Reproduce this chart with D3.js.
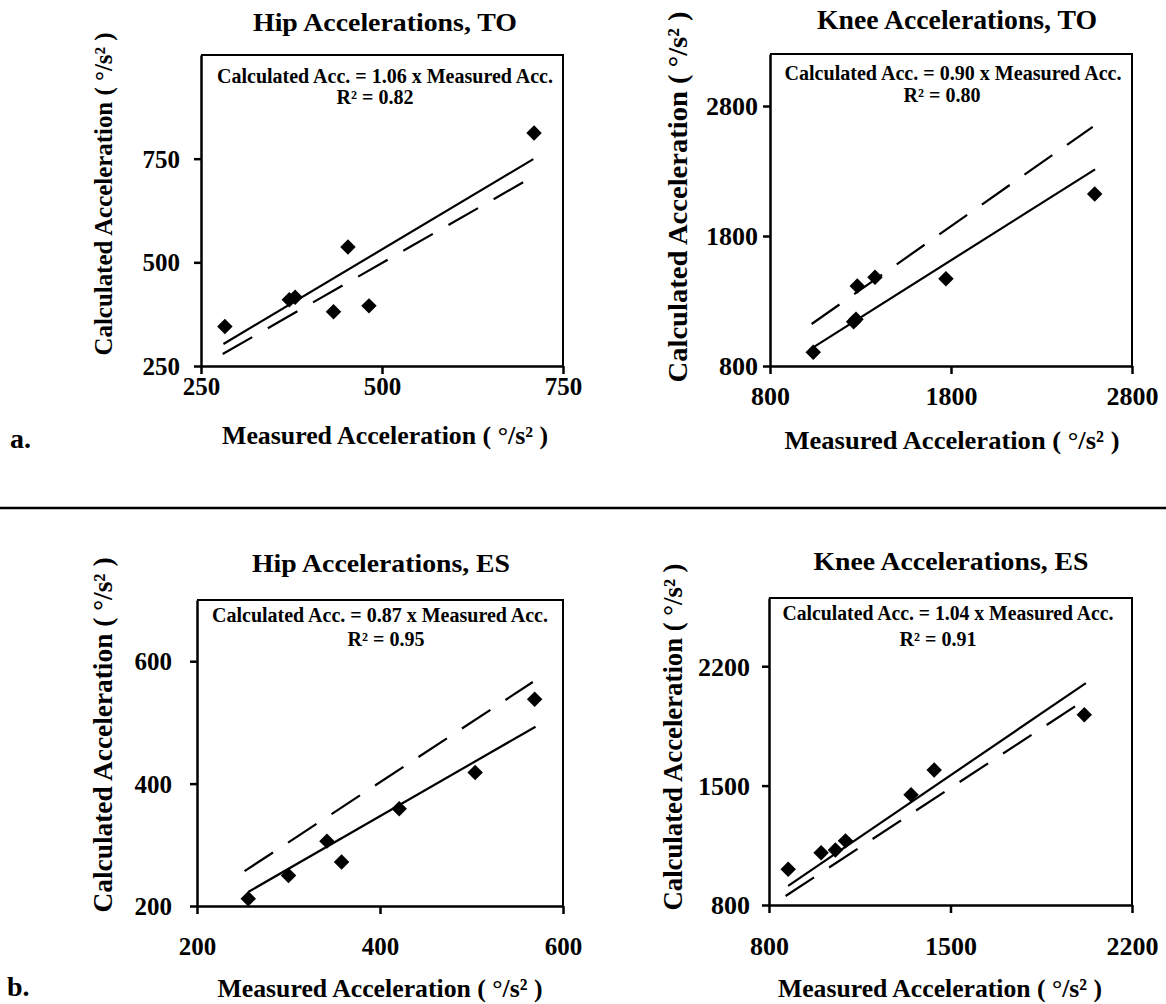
<!DOCTYPE html>
<html>
<head>
<meta charset="utf-8">
<script src="https://cdn.jsdelivr.net/npm/d3@7"></script>
<style>
  body { margin: 0; background: #fff; }
  svg text { font-family: "Liberation Serif", "Times New Roman", serif; font-weight: bold; fill: #000; }
</style>
</head>
<body>
<div id="chart"></div>
<script>
// values
var titles = ["Hip Accelerations, TO", "Knee Accelerations, TO", "Hip Accelerations, ES", "Knee Accelerations, ES"];
var slopes = ["1.06", "0.90", "0.87", "1.04"];
var rSquared = ["0.82", "0.80", "0.95", "0.91"];

var hipTOMeasured = [283, 372, 380, 433, 453, 482, 710];
var hipTOCalculated = [345, 410, 416, 381, 537, 395, 812];
var kneeTOMeasured = [1039, 1262, 1275, 1282, 1380, 1772, 2594];
var kneeTOCalculated = [905, 1140, 1160, 1415, 1482, 1471, 2123];
var hipESMeasured = [256, 300, 342, 358, 421, 504, 569];
var hipESCalculated = [212, 250, 306, 272, 359, 418, 538];
var kneeESMeasured = [874, 1001, 1056, 1095, 1348, 1437, 2016];
var kneeESCalculated = [1010, 1107, 1123, 1176, 1446, 1592, 1915];

// regression line (solid) and reference line (dashed) end points
var fitX = [[281, 709], [1030, 2596], [256, 570], [874, 2022]];
var fitY = [[303, 749], [936, 2313], [223, 493], [912, 2101]];
var refX = [[280, 705], [1030, 2583], [252, 567], [864, 2003]];
var refY = [[279, 703], [1123, 2640], [257, 566], [853, 1987]];

var xDomains = [[250, 750], [800, 2800], [200, 600], [800, 2200]];
var yDomains = [[250, 1000], [800, 3200], [200, 700], [800, 2600]];
var xTicks = [[250, 500, 750], [800, 1800, 2800], [200, 400, 600], [800, 1500, 2200]];
var yTicks = [[250, 500, 750], [800, 1800, 2800], [200, 400, 600], [800, 1500, 2200]];

var xLabel = "Measured Acceleration ( \u00B0/s\u00B2 )";
var yLabel = "Calculated Acceleration ( \u00B0/s\u00B2 )";

var measured = [hipTOMeasured, kneeTOMeasured, hipESMeasured, kneeESMeasured];
var calculated = [hipTOCalculated, kneeTOCalculated, hipESCalculated, kneeESCalculated];

// layout of each panel (pixels), scanned figure so each one differs a bit
var layout = [
  {x0: 201, x1: 563, y0: 55, y1: 366, tickFont: 25, yTickRight: 180, xTickBase: 395,
   titleX: 385, titleY: 31, titleLen: 264, titleFont: 26,
   yLabX: 112, yLabCY: 194, yLabLen: 323, yLabFont: 25,
   xLabX: 385, xLabY: 444, xLabLen: 326, xLabFont: 25,
   eqX: 385, eqY: 83, eqLen: 336, r2X: 375, r2Y: 104},
  {x0: 770, x1: 1132, y0: 54, y1: 366, tickFont: 26, yTickRight: 758, xTickBase: 405,
   titleX: 957, titleY: 29, titleLen: 280, titleFont: 27,
   yLabX: 687, yLabCY: 197, yLabLen: 371, yLabFont: 28,
   xLabX: 952, xLabY: 449, xLabLen: 335, xLabFont: 26,
   eqX: 953, eqY: 80, eqLen: 337, r2X: 942, r2Y: 102},
  {x0: 197, x1: 563, y0: 600, y1: 906, tickFont: 25, yTickRight: 172, xTickBase: 955,
   titleX: 381, titleY: 572, titleLen: 258, titleFont: 26,
   yLabX: 112, yLabCY: 735, yLabLen: 355, yLabFont: 27,
   xLabX: 380, xLabY: 997, xLabLen: 325, xLabFont: 26,
   eqX: 380, eqY: 622, eqLen: 336, r2X: 386, r2Y: 646},
  {x0: 769, x1: 1132, y0: 598, y1: 905, tickFont: 26, yTickRight: 750, xTickBase: 955,
   titleX: 951, titleY: 570, titleLen: 275, titleFont: 26,
   yLabX: 682, yLabCY: 737, yLabLen: 347, yLabFont: 27,
   xLabX: 940, xLabY: 997, xLabLen: 324, xLabFont: 26,
   eqX: 948, eqY: 620, eqLen: 331, r2X: 938, r2Y: 646}
];

var W = 1166, H = 1004;
var svg = d3.select("#chart").append("svg")
  .attr("width", W)
  .attr("height", H);

// separator between a. and b.
svg.append("line")
  .attr("x1", 0).attr("x2", W)
  .attr("y1", 508).attr("y2", 508)
  .attr("stroke", "#000").attr("stroke-width", 2.5);

svg.append("text").attr("x", 10).attr("y", 448).style("font-size", "28px").text("a.");
svg.append("text").attr("x", 7).attr("y", 996).style("font-size", "28px").text("b.");

layout.forEach(function(L, p) {
  var x = d3.scaleLinear().domain(xDomains[p]).range([L.x0, L.x1]);
  var y = d3.scaleLinear().domain(yDomains[p]).range([L.y1, L.y0]);
  var g = svg.append("g");

  // top and right border of the plot area
  g.append("path")
    .attr("d", "M" + L.x0 + "," + L.y0 + "H" + L.x1 + "V" + L.y1)
    .attr("fill", "none").attr("stroke", "#000").attr("stroke-width", 2);

  var xAxis = g.append("g")
    .attr("transform", "translate(0," + L.y1 + ")")
    .call(d3.axisBottom(x).tickValues(xTicks[p]).tickSize(8).tickSizeOuter(0).tickFormat(d3.format("d")));
  xAxis.selectAll("text")
    .attr("dy", null)
    .attr("y", L.xTickBase - L.y1)
    .style("font-size", L.tickFont + "px");

  var yAxis = g.append("g")
    .attr("transform", "translate(" + L.x0 + ",0)")
    .call(d3.axisLeft(y).tickValues(yTicks[p]).tickSize(7).tickSizeOuter(0)
      .tickPadding(L.x0 - L.yTickRight - 7).tickFormat(d3.format("d")));
  yAxis.selectAll("text")
    .attr("dy", "0.34em")
    .style("font-size", L.tickFont + "px");

  g.selectAll(".domain").attr("stroke", "#000").attr("stroke-width", 2.5);
  g.selectAll(".tick line").attr("stroke", "#000").attr("stroke-width", 2.5);
  g.selectAll(".tick text").attr("font-family", null);

  // regression and reference lines
  var line = d3.line().x(function(d) { return x(d[0]); }).y(function(d) { return y(d[1]); });
  g.append("path")
    .datum(d3.zip(fitX[p], fitY[p]))
    .attr("d", line)
    .attr("fill", "none").attr("stroke", "#000").attr("stroke-width", 2.2);
  g.append("path")
    .datum(d3.zip(refX[p], refY[p]))
    .attr("d", line)
    .attr("fill", "none").attr("stroke", "#000").attr("stroke-width", 2.2)
    .attr("stroke-dasharray", "34,18");

  // data points (diamonds)
  var diamond = d3.symbol().type(d3.symbolSquare).size(120);
  g.selectAll(".pt")
    .data(d3.zip(measured[p], calculated[p]))
    .enter().append("path")
    .attr("class", "pt")
    .attr("d", diamond)
    .attr("transform", function(d) { return "translate(" + x(d[0]) + "," + y(d[1]) + ") rotate(45)"; })
    .attr("fill", "#000");

  // texts
  g.append("text")
    .attr("x", L.titleX).attr("y", L.titleY)
    .attr("text-anchor", "middle")
    .attr("textLength", L.titleLen).attr("lengthAdjust", "spacingAndGlyphs")
    .style("font-size", L.titleFont + "px")
    .text(titles[p]);

  g.append("text")
    .attr("transform", "translate(" + L.yLabX + "," + L.yLabCY + ") rotate(-90)")
    .attr("text-anchor", "middle")
    .attr("textLength", L.yLabLen).attr("lengthAdjust", "spacingAndGlyphs")
    .style("font-size", L.yLabFont + "px")
    .text(yLabel);

  g.append("text")
    .attr("x", L.xLabX).attr("y", L.xLabY)
    .attr("text-anchor", "middle")
    .attr("textLength", L.xLabLen).attr("lengthAdjust", "spacingAndGlyphs")
    .style("font-size", L.xLabFont + "px")
    .text(xLabel);

  g.append("text")
    .attr("x", L.eqX).attr("y", L.eqY)
    .attr("text-anchor", "middle")
    .attr("textLength", L.eqLen).attr("lengthAdjust", "spacingAndGlyphs")
    .style("font-size", "20px")
    .text("Calculated Acc. = " + slopes[p] + " x Measured Acc.");

  g.append("text")
    .attr("x", L.r2X).attr("y", L.r2Y)
    .attr("text-anchor", "middle")
    .style("font-size", "20px")
    .text("R\u00B2 = " + rSquared[p]);
});
</script>
</body>
</html>
